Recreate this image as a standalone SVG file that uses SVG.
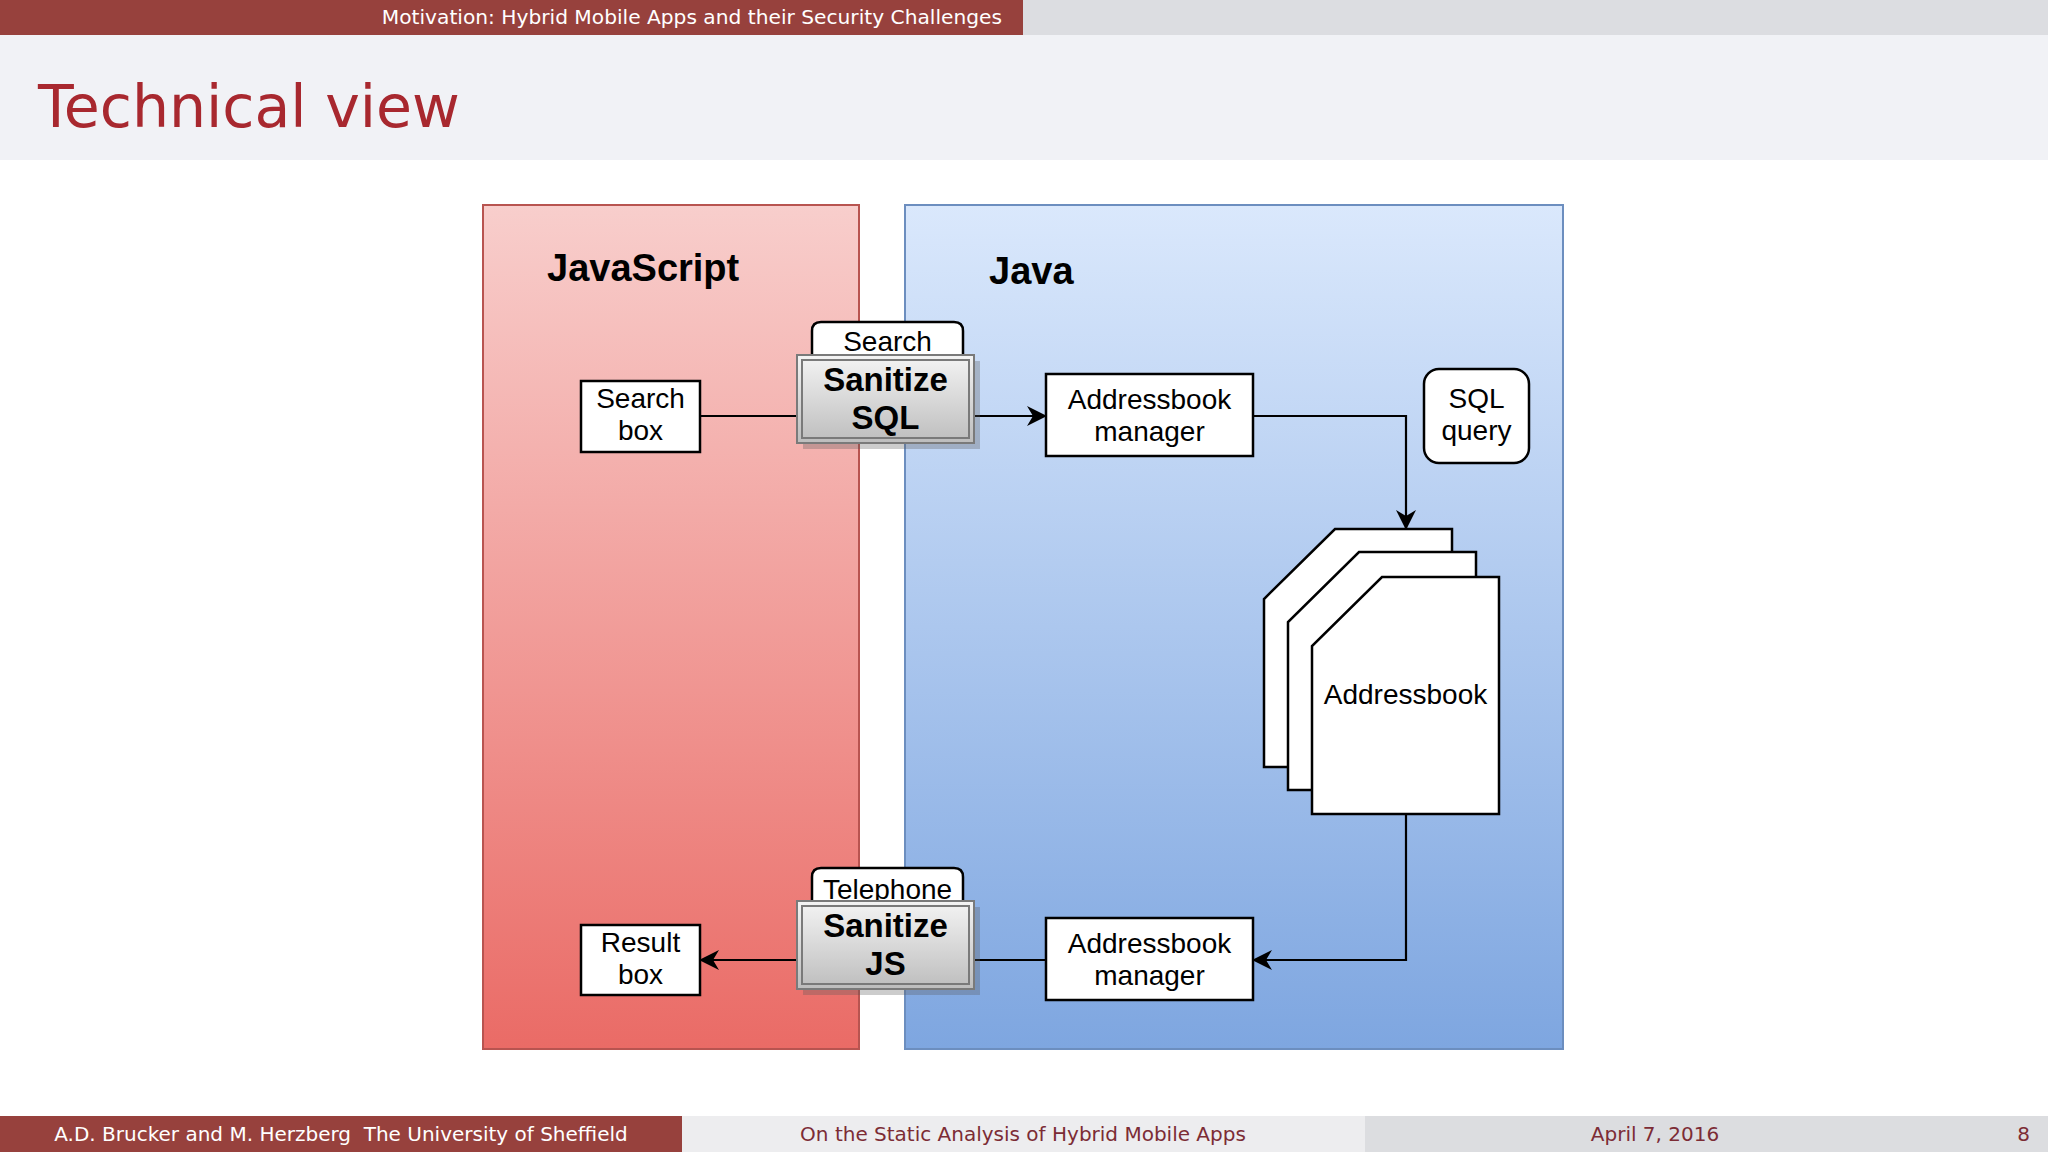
<svg xmlns="http://www.w3.org/2000/svg" width="2048" height="1152" viewBox="0 0 2048 1152">
  <defs>
    <linearGradient id="gJs" x1="0" y1="0" x2="0" y2="1">
      <stop offset="0" stop-color="#f8cecc"/>
      <stop offset="1" stop-color="#ea6b66"/>
    </linearGradient>
    <linearGradient id="gJava" x1="0" y1="0" x2="0" y2="1">
      <stop offset="0" stop-color="#dae8fc"/>
      <stop offset="1" stop-color="#7ea6e0"/>
    </linearGradient>
    <linearGradient id="gSan" x1="0" y1="0" x2="0" y2="1">
      <stop offset="0" stop-color="#f4f4f4"/>
      <stop offset="1" stop-color="#bdbdbd"/>
    </linearGradient>
    <marker id="arr" viewBox="0 0 20 20" refX="19" refY="10" markerWidth="20" markerHeight="20" orient="auto" markerUnits="userSpaceOnUse">
      <path d="M0,0 L20,10 L0,20 L6,10 z" fill="#000"/>
    </marker>
    <style>
      .slide { font-family: "DejaVu Sans", "Liberation Sans", sans-serif; }
      .box { fill: #ffffff; stroke: #000; stroke-width: 2.5; }
      .lbl { font-family: "Liberation Sans", Arial, sans-serif; font-size: 28px; fill: #000; text-anchor: middle; }
      .big { font-family: "Liberation Sans", Arial, sans-serif; font-size: 38px; font-weight: bold; fill: #000; }
      .san { font-family: "Liberation Sans", Arial, sans-serif; font-size: 33px; font-weight: bold; fill: #000; text-anchor: middle; }
      .conn { fill: none; stroke: #000; stroke-width: 2.2; }
      .sanbox { fill: url(#gSan); stroke: #7a7a7a; stroke-width: 2; }
      .saninner { fill: none; stroke: #7a7a7a; stroke-width: 2; }
      .shadow { fill: #555; opacity: 0.3; }
    </style>
  </defs>

  <!-- slide frame -->
  <rect x="0" y="0" width="2048" height="1152" fill="#ffffff"/>
  <g id="header">
    <rect x="0" y="0" width="1023" height="35" fill="#97413d"/>
    <rect x="1023" y="0" width="1025" height="35" fill="#dcdde1"/>
    <text class="slide" x="1002" y="24" font-size="20.2" fill="#ffffff" text-anchor="end">Motivation: Hybrid Mobile Apps and their Security Challenges</text>
  </g>
  <g id="title">
    <rect x="0" y="35" width="2048" height="125" fill="#f1f2f6"/>
    <text class="slide" x="38" y="127" font-size="58.5" fill="#a8282f">Technical view</text>
  </g>
  <g id="footer">
    <rect x="0" y="1116" width="682" height="36" fill="#97413d"/>
    <rect x="682" y="1116" width="683" height="36" fill="#ededef"/>
    <rect x="1365" y="1116" width="683" height="36" fill="#dcdde0"/>
    <text class="slide" x="341" y="1141" font-size="20" fill="#ffffff" text-anchor="middle" xml:space="preserve">A.D. Brucker and M. Herzberg  The University of Sheffield</text>
    <text class="slide" x="1023" y="1141" font-size="20" fill="#7c2c35" text-anchor="middle">On the Static Analysis of Hybrid Mobile Apps</text>
    <text class="slide" x="1655" y="1141" font-size="20" fill="#7c2c35" text-anchor="middle">April 7, 2016</text>
    <text class="slide" x="2030" y="1141" font-size="20" fill="#7c2c35" text-anchor="end">8</text>
  </g>

  <!-- panels -->
  <g id="panel-js">
    <rect x="483" y="205" width="376" height="844" fill="url(#gJs)" stroke="#b85450" stroke-width="2"/>
    <text class="big" x="547" y="281">JavaScript</text>
  </g>
  <g id="panel-java">
    <rect x="905" y="205" width="658" height="844" fill="url(#gJava)" stroke="#6c8ebf" stroke-width="2"/>
    <text class="big" x="989" y="284">Java</text>
  </g>

  <!-- connectors -->
  <g id="connectors">
    <path class="conn" d="M700,416 H797"/>
    <path class="conn" d="M974,416 H1046" marker-end="url(#arr)"/>
    <path class="conn" d="M1253,416 H1406 V529" marker-end="url(#arr)"/>
    <path class="conn" d="M1406,814 V960 H1253" marker-end="url(#arr)"/>
    <path class="conn" d="M1046,960 H974"/>
    <path class="conn" d="M797,960 H700" marker-end="url(#arr)"/>
  </g>

  <!-- nodes -->
  <g id="search-box">
    <rect class="box" x="581" y="381" width="119" height="71"/>
    <text class="lbl" x="640.5" y="408">Search</text>
    <text class="lbl" x="640.5" y="440">box</text>
  </g>

  <g id="search-tab">
    <path class="box" d="M812,355 V331 Q812,322 821,322 H954 Q963,322 963,331 V355"/>
    <text class="lbl" x="887.5" y="351">Search</text>
  </g>
  <g id="sanitize-sql">
    <rect class="shadow" x="803" y="361" width="177" height="88"/>
    <rect class="sanbox" x="797" y="355" width="177" height="88"/>
    <rect class="saninner" x="802" y="360" width="167" height="78"/>
    <text class="san" x="885.5" y="391">Sanitize</text>
    <text class="san" x="885.5" y="429">SQL</text>
  </g>

  <g id="ab-manager-top">
    <rect class="box" x="1046" y="374" width="207" height="82"/>
    <text class="lbl" x="1149.5" y="409">Addressbook</text>
    <text class="lbl" x="1149.5" y="441">manager</text>
  </g>

  <g id="sql-query">
    <rect class="box" x="1424" y="369" width="105" height="94" rx="15" ry="15"/>
    <text class="lbl" x="1476.5" y="408">SQL</text>
    <text class="lbl" x="1476.5" y="440">query</text>
  </g>

  <g id="addressbook">
    <polygon class="box" points="1335,529 1452,529 1452,767 1264,767 1264,599"/>
    <polygon class="box" points="1359,552 1476,552 1476,790 1288,790 1288,622"/>
    <polygon class="box" points="1382,577 1499,577 1499,814 1312,814 1312,646"/>
    <text class="lbl" x="1405.5" y="704">Addressbook</text>
  </g>

  <g id="ab-manager-bottom">
    <rect class="box" x="1046" y="918" width="207" height="82"/>
    <text class="lbl" x="1149.5" y="953">Addressbook</text>
    <text class="lbl" x="1149.5" y="985">manager</text>
  </g>

  <g id="telephone-tab">
    <path class="box" d="M812,901 V877 Q812,868 821,868 H954 Q963,868 963,877 V901"/>
    <text class="lbl" x="887.5" y="899">Telephone</text>
  </g>
  <g id="sanitize-js">
    <rect class="shadow" x="803" y="907" width="177" height="88"/>
    <rect class="sanbox" x="797" y="901" width="177" height="88"/>
    <rect class="saninner" x="802" y="906" width="167" height="78"/>
    <text class="san" x="885.5" y="937">Sanitize</text>
    <text class="san" x="885.5" y="975">JS</text>
  </g>

  <g id="result-box">
    <rect class="box" x="581" y="925" width="119" height="70"/>
    <text class="lbl" x="640.5" y="952">Result</text>
    <text class="lbl" x="640.5" y="984">box</text>
  </g>
</svg>
